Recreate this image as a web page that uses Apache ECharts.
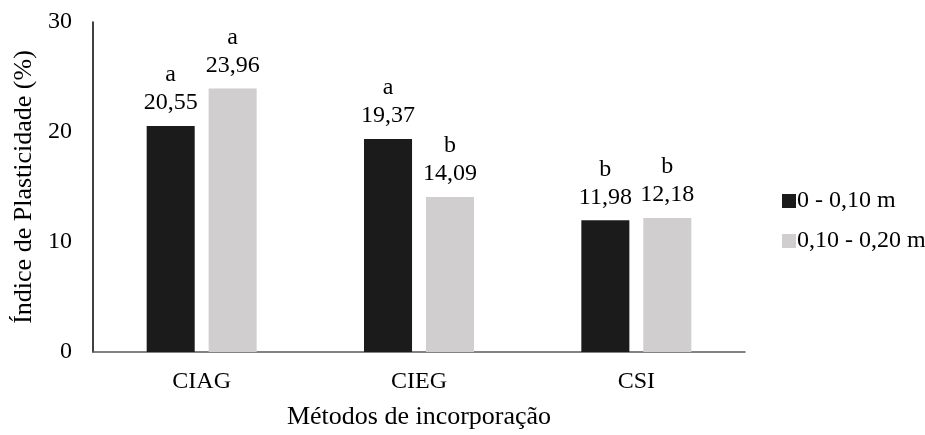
<!DOCTYPE html>
<html>
<head>
<meta charset="utf-8">
<script src="https://cdn.jsdelivr.net/npm/echarts@6/dist/echarts.min.js"></script>
<style>html,body{margin:0;padding:0;background:#fff;}#c{width:925px;height:435px;}</style>
</head>
<body>
<div id="c"></div>
<script>
var categories = ['CIAG', 'CIEG', 'CSI'];
var seriesNames = ['0 - 0,10 m', '0,10 - 0,20 m'];
var values1 = [20.55, 19.37, 11.98];
var values2 = [23.96, 14.09, 12.18];
var letters1 = ['a', 'a', 'b'];
var letters2 = ['a', 'b', 'b'];
var yTicks = [0, 10, 20, 30];

var FONT = '"Liberation Serif", "Times New Roman", serif';
function fmt(v){ return v.toFixed(2).replace('.', ','); }
function labelFor(letters){
  return {
    show: true, position: 'top', distance: 9,
    fontFamily: FONT, fontSize: 24, color: '#000', lineHeight: 28,
    formatter: function(p){ return letters[p.dataIndex] + '\n' + fmt(p.value); }
  };
}
var chart = echarts.init(document.getElementById('c'));
chart.setOption({
  animation: false,
  textStyle: { fontFamily: FONT },
  grid: { left: 93, right: 180, top: 22, bottom: 80, containLabel: false },
  legend: {
    orient: 'vertical', left: 777, top: 184, itemGap: 16,
    itemWidth: 14, itemHeight: 14, icon: 'rect',
    textStyle: { fontFamily: FONT, fontSize: 24, color: '#000', padding: [0,0,0,-4] },
    data: seriesNames
  },
  xAxis: {
    type: 'category', data: categories,
    name: 'Métodos de incorporação', nameLocation: 'middle', nameGap: 52,
    nameTextStyle: { fontFamily: FONT, fontSize: 26, color: '#000' },
    axisLine: { lineStyle: { color: '#595959', width: 1.5 } },
    axisTick: { show: false },
    axisLabel: { fontFamily: FONT, fontSize: 24, color: '#000', margin: 18 }
  },
  yAxis: {
    type: 'value', min: yTicks[0], max: yTicks[yTicks.length-1], interval: 10,
    name: 'Índice de Plasticidade (%)', nameLocation: 'middle', nameGap: 55,
    nameTextStyle: { fontFamily: FONT, fontSize: 26, color: '#000' },
    axisLine: { show: true, lineStyle: { color: '#000', width: 1.5 } },
    axisTick: { show: false },
    splitLine: { show: false },
    axisLabel: { fontFamily: FONT, fontSize: 24, color: '#000', margin: 21 }
  },
  series: [
    { name: seriesNames[0], type: 'bar', data: values1, barWidth: '22.1%', barGap: '29%',
      itemStyle: { color: '#1b1b1b' }, label: labelFor(letters1) },
    { name: seriesNames[1], type: 'bar', data: values2, barWidth: '22.1%',
      itemStyle: { color: '#d0cece' }, label: labelFor(letters2) }
  ]
});
</script>
</body>
</html>
